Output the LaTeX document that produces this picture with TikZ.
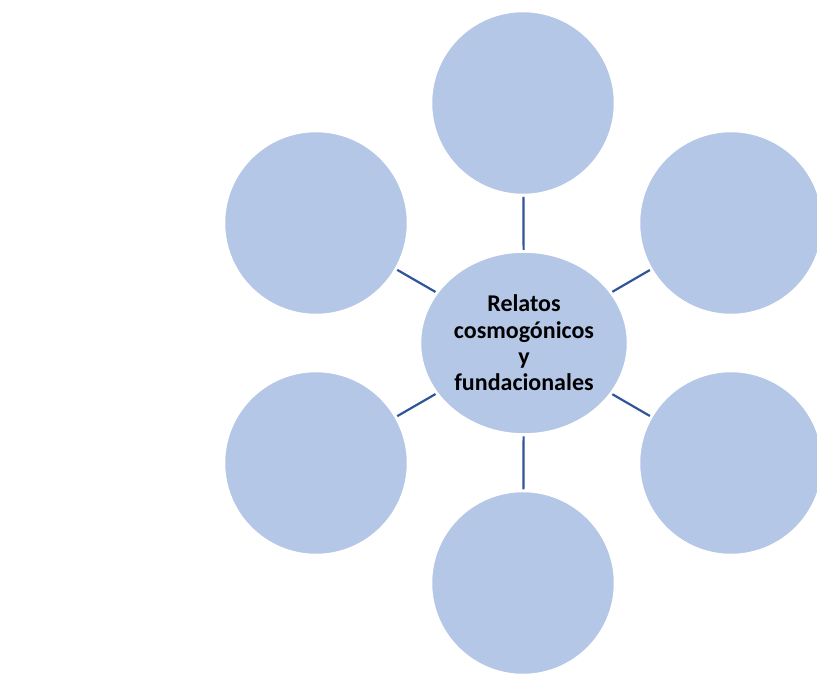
\documentclass[tikz,border=0pt]{standalone}
\usepackage{fontspec}
\setmainfont{Carlito}
\usetikzlibrary{shapes.geometric}
\definecolor{bubblefill}{HTML}{B4C7E7}
\definecolor{spokeblue}{HTML}{2F5597}
\begin{document}
\begin{tikzpicture}[x=1pt,y=-1pt,
  bubble/.style={circle,fill=bubblefill,draw=white,line width=1.5pt,
    minimum size=183pt,inner sep=0pt},
  hub/.style={ellipse,fill=bubblefill,draw=white,line width=1.5pt,
    minimum width=207pt,minimum height=182pt,inner sep=0pt,
    align=center,font=\fontsize{24}{26.3}\selectfont\bfseries},
  spoke/.style={draw=spokeblue,line width=2.2pt,shorten <=1.5pt,shorten >=1.5pt}]
\useasboundingbox (0,0) rectangle (817,673);
% central topic and the six surrounding bubbles
\node[hub] (hub) at (524,343) {Relatos\\cosmogónicos\\y\\fundacionales};
\node[bubble] (n) at (523,103) {};
\node[bubble] (ne) at (731,223) {};
\node[bubble] (se) at (731,463) {};
\node[bubble] (s) at (523,583) {};
\node[bubble] (sw) at (316,463) {};
\node[bubble] (nw) at (316,223) {};
% spokes from the hub to each bubble
\foreach \b in {n,ne,se,s,sw,nw}
  \draw[spoke] (hub) -- (\b);
\end{tikzpicture}
\end{document}
